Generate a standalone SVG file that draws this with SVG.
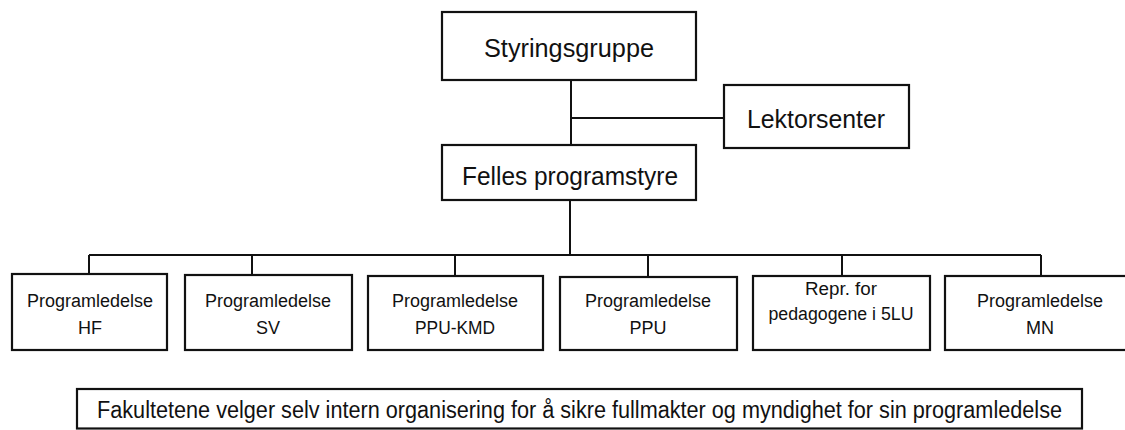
<svg xmlns="http://www.w3.org/2000/svg" width="1125" height="430" viewBox="0 0 1125 430">
<style>
.box{fill:#fff;stroke:#111;stroke-width:2.2}
.ln{fill:none;stroke:#111;stroke-width:2}
text{font-family:"Liberation Sans Narrow","Liberation Sans",Arial,sans-serif;fill:#111;text-anchor:middle}
.big{font-size:26px}
.sm{font-size:18px}
.note{font-size:23px;text-anchor:start}
</style>
<rect width="1125" height="430" fill="#fff"/>
<g id="connectors">
<path class="ln" d="M571,80 V145 M571,118 H724 M570,200 V255 M89,255 H1041 M89,255 V274 M252,255 V275 M455,255 V276 M648,255 V277 M842,255 V276 M1041,255 V276"/>
</g>
<g id="styringsgruppe">
<rect class="box" x="442" y="12" width="254" height="68"/>
<text class="big" x="569" y="57" textLength="170" lengthAdjust="spacingAndGlyphs">Styringsgruppe</text>
</g>
<g id="lektorsenter">
<rect class="box" x="724" y="85" width="185" height="63"/>
<text class="big" x="816" y="128" textLength="138" lengthAdjust="spacingAndGlyphs">Lektorsenter</text>
</g>
<g id="felles">
<rect class="box" x="442" y="145" width="254" height="55"/>
<text class="big" x="570" y="185" textLength="216" lengthAdjust="spacingAndGlyphs">Felles programstyre</text>
</g>
<g id="hf">
<rect class="box" x="12" y="274" width="155" height="76"/>
<text class="sm" x="90" y="307" textLength="126" lengthAdjust="spacingAndGlyphs">Programledelse</text>
<text class="sm" x="90" y="334">HF</text>
</g>
<g id="sv">
<rect class="box" x="185" y="275" width="167" height="75"/>
<text class="sm" x="268" y="307" textLength="126" lengthAdjust="spacingAndGlyphs">Programledelse</text>
<text class="sm" x="268" y="334">SV</text>
</g>
<g id="ppukmd">
<rect class="box" x="368" y="276" width="175" height="74"/>
<text class="sm" x="455" y="307" textLength="126" lengthAdjust="spacingAndGlyphs">Programledelse</text>
<text class="sm" x="455" y="334" textLength="80" lengthAdjust="spacingAndGlyphs">PPU-KMD</text>
</g>
<g id="ppu">
<rect class="box" x="560" y="277" width="177" height="73"/>
<text class="sm" x="648" y="307" textLength="126" lengthAdjust="spacingAndGlyphs">Programledelse</text>
<text class="sm" x="648" y="334">PPU</text>
</g>
<g id="repr">
<rect class="box" x="753" y="276" width="177" height="74"/>
<text class="sm" x="841" y="295" textLength="72" lengthAdjust="spacingAndGlyphs">Repr. for</text>
<text class="sm" x="841" y="320" textLength="145" lengthAdjust="spacingAndGlyphs">pedagogene i 5LU</text>
</g>
<g id="mn">
<rect class="box" x="945" y="276" width="192" height="74"/>
<text class="sm" x="1040" y="307" textLength="126" lengthAdjust="spacingAndGlyphs">Programledelse</text>
<text class="sm" x="1040" y="334">MN</text>
</g>
<g id="note">
<rect class="box" x="77" y="389" width="1005" height="39.5"/>
<text class="note" x="97" y="418" textLength="965" lengthAdjust="spacingAndGlyphs">Fakultetene velger selv intern organisering for å sikre fullmakter og myndighet for sin programledelse</text>
</g>
</svg>
